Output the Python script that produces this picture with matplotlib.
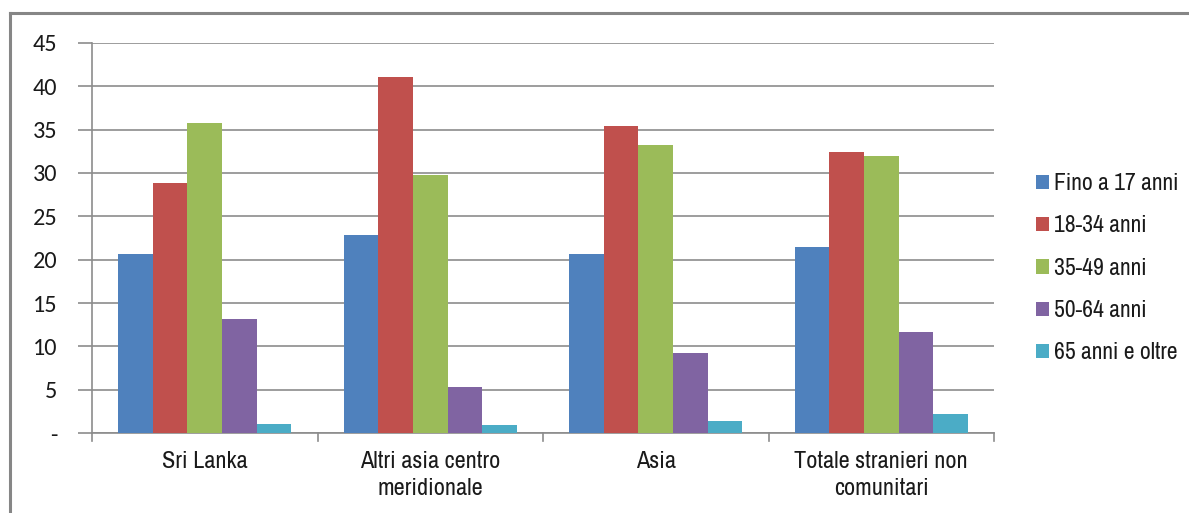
import matplotlib
matplotlib.use("Agg")
import matplotlib.pyplot as plt
from matplotlib.lines import Line2D
import numpy as np

categories = ["Sri Lanka", "Altri asia centro\nmeridionale", "Asia",
              "Totale stranieri non\ncomunitari"]
series_names = ["Fino a 17 anni", "18-34 anni", "35-49 anni", "50-64 anni",
                "65 anni e oltre"]
fino_17 = [20.7, 22.8, 20.7, 21.5]
anni_18_34 = [28.9, 41.1, 35.4, 32.4]
anni_35_49 = [35.8, 29.8, 33.2, 32.0]
anni_50_64 = [13.2, 5.3, 9.2, 11.7]
anni_65_plus = [1.0, 0.9, 1.35, 2.2]
y_ticks = [0, 5, 10, 15, 20, 25, 30, 35, 40, 45]
y_tick_labels = ["-", "5", "10", "15", "20", "25", "30", "35", "40", "45"]

colors = ["#4F81BD", "#C0504D", "#9BBB59", "#8064A2", "#4BACC6"]
values = [fino_17, anni_18_34, anni_35_49, anni_50_64, anni_65_plus]

narrow = ["Liberation Sans Narrow", "Archivo Narrow", "PT Sans Narrow",
          "Roboto Condensed", "Liberation Sans"]
num_font = ["Carlito", "Lato"]

W, H = 1189, 513
fig = plt.figure(figsize=(W / 100, H / 100), dpi=100)
ax = fig.add_axes([92 / W, 1 - 433 / H, (994 - 92) / W, (433 - 43) / H])

x = np.arange(len(categories))
bw = 0.153
for i, (name, vals, c) in enumerate(zip(series_names, values, colors)):
    ax.bar(x + (i - 2) * bw, vals, width=bw, color=c, label=name, zorder=3)

ax.set_xlim(-0.5, len(categories) - 0.5)
ax.set_ylim(0, 45)
ax.set_yticks(y_ticks)
ax.set_yticklabels(y_tick_labels, fontfamily=num_font, fontsize=17.5, color="#1a1a1a")
ax.yaxis.grid(True, color="#8c8c8c", linewidth=1.2, zorder=0)
ax.tick_params(axis="y", length=10, width=1.2, color="#8c8c8c", pad=15)

ax.set_xticks(x)
ax.set_xticklabels(categories, fontfamily=narrow, fontsize=17.5, color="#1a1a1a",
                   linespacing=1.35)
ax.tick_params(axis="x", length=0, pad=13)
# separators between categories on the category axis
for b in np.arange(-0.5, len(categories), 1.0):
    ax.plot([b, b], [0, -0.9], color="#8c8c8c", linewidth=1.2, clip_on=False, zorder=4)

for s in ["top", "right"]:
    ax.spines[s].set_visible(False)
for s in ["left", "bottom"]:
    ax.spines[s].set_color("#8c8c8c")
    ax.spines[s].set_linewidth(1.2)

leg = fig.legend(loc="upper left", bbox_to_anchor=(1015 / W, 1 - 152 / H),
                 frameon=False, handlelength=0.55, handleheight=0.55,
                 handletextpad=0.2, labelspacing=0.9,
                 prop={"family": narrow, "size": 17})
for t in leg.get_texts():
    t.set_color("#1a1a1a")

# outer chart frame
fig.add_artist(Line2D([10 / W, 1], [1 - 13 / H, 1 - 13 / H], color="#868686", linewidth=2.2))
fig.add_artist(Line2D([10 / W, 10 / W], [0, 1 - 13 / H], color="#868686", linewidth=2.2))

fig.savefig("out.png", dpi=100, facecolor="white")
